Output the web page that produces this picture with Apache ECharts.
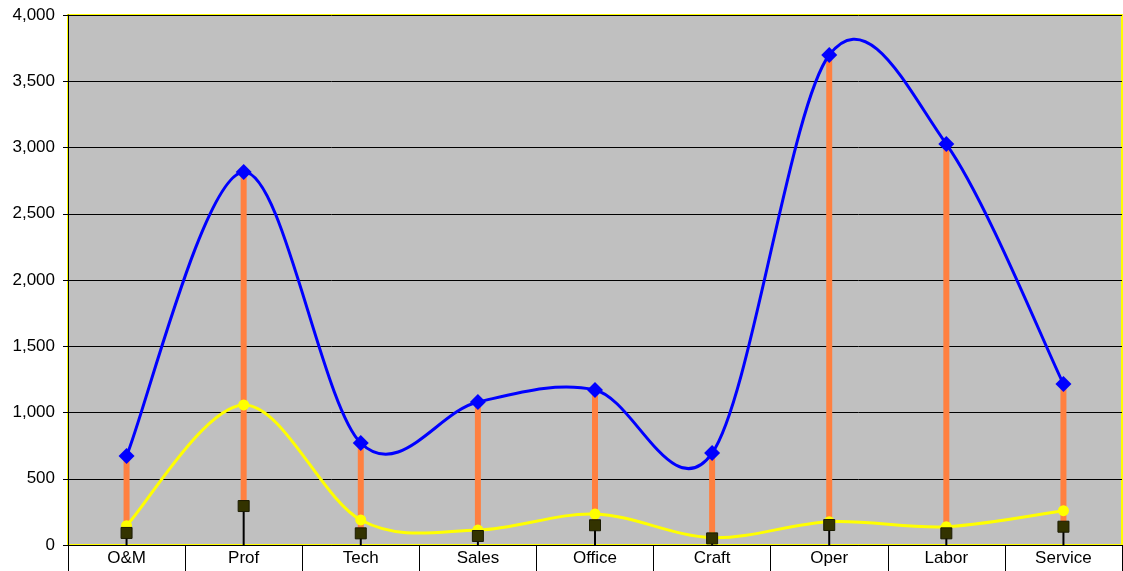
<!DOCTYPE html>
<html>
<head>
<meta charset="utf-8">
<script src="https://cdn.jsdelivr.net/npm/echarts@6/dist/echarts.min.js"></script>
<style>
  html, body { margin: 0; padding: 0; background: #fff; }
  #chart { width: 1123px; height: 571px; }
</style>
</head>
<body>
<div id="chart"></div>
<script>
const categories = ['O&M', 'Prof', 'Tech', 'Sales', 'Office', 'Craft', 'Oper', 'Labor', 'Service'];
// upper series (blue diamonds)
const highValues = [672, 2815, 770, 1079, 1170, 694, 3698, 3026, 1215];
// middle series (yellow circles)
const midValues = [146, 1057, 189, 113, 234, 55, 176, 138, 259];
// lower series (dark squares)
const lowValues = [91, 294, 88, 68, 149, 50, 151, 88, 138];

const chart = echarts.init(document.getElementById('chart'));

// vertical segment between two values of one category
function vLine(color, width) {
  return (params, api) => {
    const from = api.coord([api.value(0), api.value(1)]);
    const to = api.coord([api.value(0), api.value(2)]);
    return {
      type: 'line',
      shape: { x1: from[0], y1: from[1], x2: to[0], y2: to[1] },
      style: { stroke: color, lineWidth: width }
    };
  };
}

// one segment per item: [i, v(i-1), v(i), v(i+1), v(i+2)]
function segments(values) {
  const n = values.length;
  const at = k => values[Math.min(n - 1, Math.max(0, k))];
  const out = [];
  for (let i = 0; i < n - 1; i++) {
    out.push([i, at(i - 1), at(i), at(i + 1), at(i + 2)]);
  }
  return out;
}

// catmull-rom style curve, like the spreadsheet "smoothed line"
function smoothCurve(color, width) {
  return (params, api) => {
    const i = api.value(0);
    const last = categories.length - 1;
    const p0 = api.coord([Math.max(0, i - 1), api.value(1)]);
    const p1 = api.coord([i, api.value(2)]);
    const p2 = api.coord([i + 1, api.value(3)]);
    const p3 = api.coord([Math.min(last, i + 2), api.value(4)]);
    const k = 1 / 6;
    return {
      type: 'bezierCurve',
      shape: {
        x1: p1[0], y1: p1[1],
        x2: p2[0], y2: p2[1],
        cpx1: p1[0] + (p2[0] - p0[0]) * k,
        cpy1: p1[1] + (p2[1] - p0[1]) * k,
        cpx2: p2[0] - (p3[0] - p1[0]) * k,
        cpy2: p2[1] - (p3[1] - p1[1]) * k
      },
      style: { stroke: color, lineWidth: width, fill: null }
    };
  };
}

const textStyle = {
  color: '#000',
  fontSize: 17,
  fontFamily: 'Liberation Sans, Arial, sans-serif'
};

const option = {
  animation: false,
  grid: {
    left: 68,
    right: 1,
    top: 15,
    bottom: 26,
    show: true,
    backgroundColor: '#c0c0c0',
    borderColor: '#ffff00',
    borderWidth: 2
  },
  xAxis: {
    type: 'category',
    data: categories,
    boundaryGap: true,
    axisLine: { lineStyle: { color: '#000', width: 1 } },
    axisTick: { show: true, interval: 0, length: 30, lineStyle: { color: '#000' } },
    axisLabel: Object.assign({ interval: 0, margin: 5 }, textStyle),
    splitLine: { show: false }
  },
  yAxis: {
    type: 'value',
    min: 0,
    max: 4000,
    interval: 500,
    axisLine: { show: true, lineStyle: { color: '#000', width: 1 } },
    axisTick: { show: true, length: 5, lineStyle: { color: '#000' } },
    axisLabel: Object.assign({
      margin: 13,
      formatter: val => val.toLocaleString('en-US')
    }, textStyle),
    splitLine: { lineStyle: { color: '#000', width: 1 } }
  },
  series: [
    {
      // drop lines
      type: 'custom',
      z: 1,
      renderItem: vLine('#000', 2),
      data: categories.map((c, i) => [i, 0, lowValues[i]])
    },
    {
      // high-low lines
      type: 'custom',
      z: 2,
      renderItem: vLine('#ff8040', 6),
      data: categories.map((c, i) => [i, lowValues[i], highValues[i]])
    },
    {
      type: 'custom',
      z: 3,
      renderItem: smoothCurve('#ffff00', 3),
      data: segments(midValues)
    },
    {
      type: 'scatter',
      z: 4,
      data: midValues,
      symbol: 'circle',
      symbolSize: 11,
      itemStyle: { color: '#ffff00', opacity: 1 }
    },
    {
      type: 'custom',
      z: 5,
      renderItem: smoothCurve('#0000ff', 3),
      data: segments(highValues)
    },
    {
      type: 'scatter',
      z: 6,
      data: highValues,
      symbol: 'diamond',
      symbolSize: 16,
      itemStyle: { color: '#0000ff', opacity: 1 }
    },
    {
      type: 'scatter',
      z: 7,
      data: lowValues,
      symbol: 'rect',
      symbolSize: 11,
      itemStyle: { color: '#333300', borderColor: '#1a1a00', borderWidth: 1, opacity: 1 }
    }
  ]
};

chart.setOption(option);
</script>
</body>
</html>
